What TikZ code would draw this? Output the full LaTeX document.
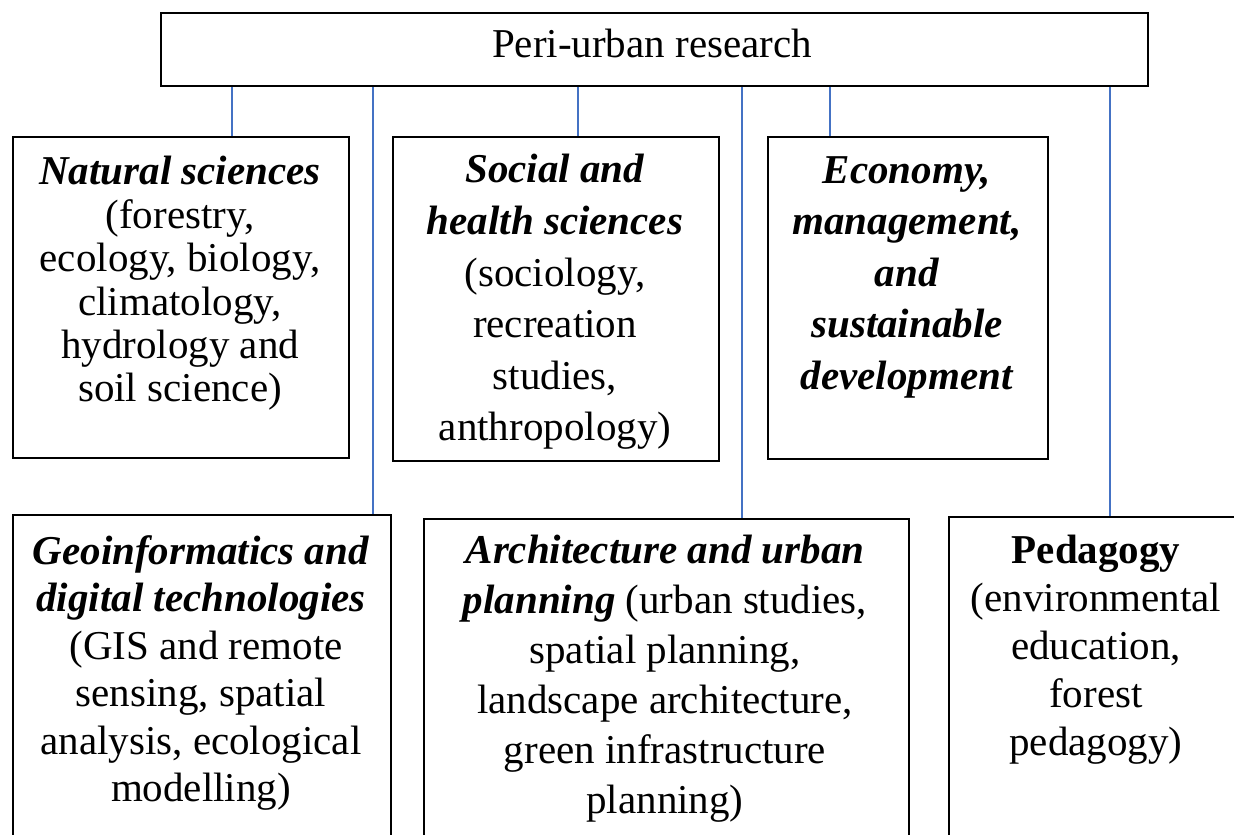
\documentclass[tikz,border=0pt]{standalone}
\usepackage{fontspec}
\setmainfont{Liberation Serif}
\newcommand{\bi}[1]{\textbf{\textit{#1}}}
\definecolor{linkblue}{HTML}{4472C4}
\begin{document}
\begin{tikzpicture}[x=0.5pt,y=-0.5pt,
  box/.style={draw=black, line width=1pt, rectangle, anchor=north west, inner sep=0pt},
  conn/.style={draw=linkblue, line width=0.8pt},
  lbl/.style={anchor=north, align=center, inner sep=0pt, font=\fontsize{20.5pt}{#1}\selectfont}]
\clip (0,0) rectangle (1234,834);
\fill[white] (0,0) rectangle (1234,834);
% boxes
\node[box, minimum width=493.5pt, minimum height=36.5pt] (top) at (160,12) {};
\node[box, minimum width=168pt, minimum height=160.5pt] (nat) at (12,136) {};
\node[box, minimum width=163pt, minimum height=162pt] (soc) at (392,136) {};
\node[box, minimum width=140pt, minimum height=161pt] (eco) at (767,136) {};
\node[box, minimum width=189pt, minimum height=178pt] (geo) at (12,514) {};
\node[box, minimum width=242.5pt, minimum height=176pt] (arc) at (423,518) {};
\node[box, minimum width=161pt, minimum height=177pt] (ped) at (948,516) {};
% texts
\node[anchor=base, inner sep=0pt, font=\fontsize{20.5pt}{24pt}\selectfont] (toptext) at (652,58) {Peri-urban research};
\node[lbl=21.7pt] (nattext) at (180,156) {\bi{Natural sciences}\\(forestry,\\ecology, biology,\\climatology,\\hydrology and\\soil science)};
\node[lbl=25.8pt] (soctext) at (555,154) {\bi{Social and}\\\bi{health sciences}\\(sociology,\\recreation\\studies,\\anthropology)};
\node[lbl=25.75pt] (ecotext) at (907,156) {\bi{Economy,}\\\bi{management,}\\\bi{and}\\\bi{sustainable}\\\bi{development}};
\node[lbl=23.75pt] (geotext) at (201,535) {\bi{Geoinformatics and}\\\bi{digital technologies}\\\ (GIS and remote\\sensing, spatial\\analysis, ecological\\modelling)};
\node[lbl=25pt] (arctext) at (665,535) {\bi{Architecture and urban}\\\bi{planning} (urban studies,\\spatial planning,\\landscape architecture,\\green infrastructure\\planning)};
\node[lbl=24pt] (pedtext) at (1096,535) {\textbf{Pedagogy}\\(environmental\\education,\\forest\\pedagogy)};
% connectors
\coordinate (x1) at (232,0);
\coordinate (x2) at (373,0);
\coordinate (x3) at (578,0);
\coordinate (x4) at (742,0);
\coordinate (x5) at (830,0);
\coordinate (x6) at (1110,0);
\draw[conn] (top.south -| x1) -- (nat.north -| x1);
\draw[conn] (top.south -| x2) -- (geo.north -| x2);
\draw[conn] (top.south -| x3) -- (soc.north -| x3);
\draw[conn] (top.south -| x4) -- (arc.north -| x4);
\draw[conn] (top.south -| x5) -- (eco.north -| x5);
\draw[conn] (top.south -| x6) -- (ped.north -| x6);
\end{tikzpicture}
\end{document}
